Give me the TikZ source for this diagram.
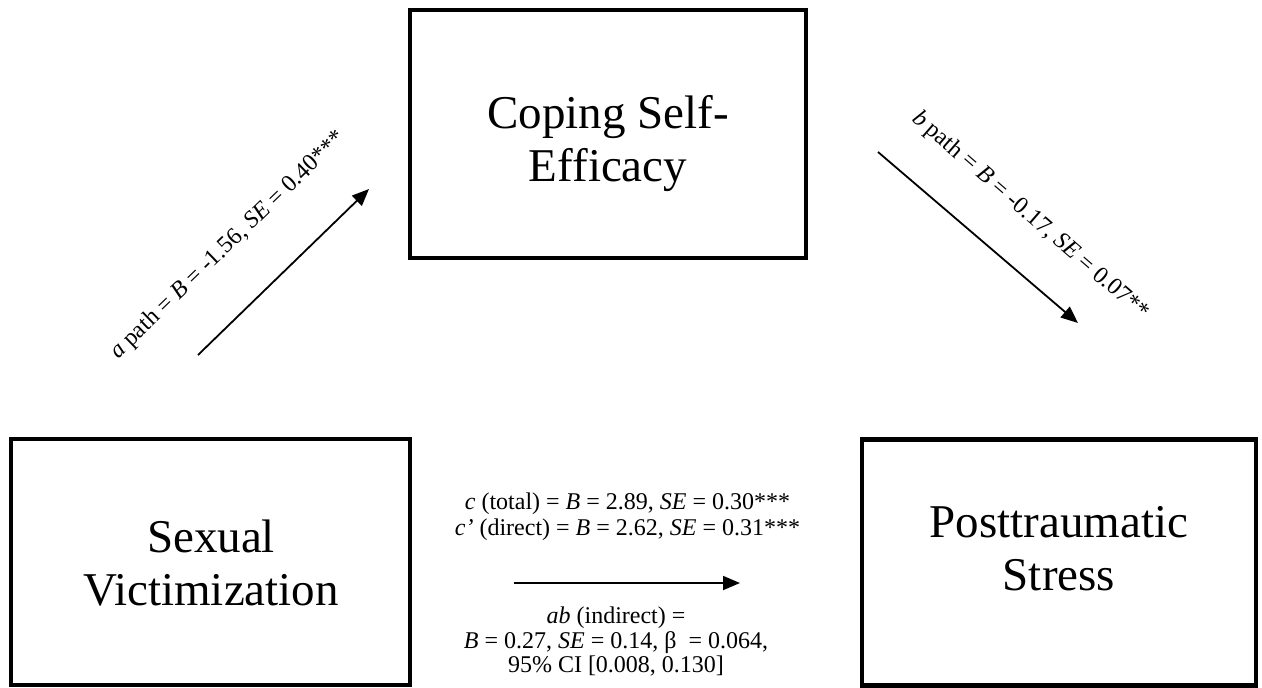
\documentclass[tikz,border=0pt]{standalone}
\usepackage{fontspec}
\setmainfont{Liberation Serif}
\usetikzlibrary{arrows.meta}
\begin{document}
\begin{tikzpicture}[x=1pt,y=-1pt,
  box/.style={draw=black, line width=4.5pt, inner sep=0pt},
  bigtext/.style={align=center, inner sep=0pt, font=\fontsize{47}{53}\selectfont},
  smalltext/.style={align=center, inner sep=0pt, font=\fontsize{24}{#1}\selectfont},
  pathlabel/.style={inner sep=0pt, font=\fontsize{24}{26}\selectfont},
  arr/.style={line width=1.8pt, -{Triangle[length=17pt,width=14pt]}}]
\fill[white] (0,0) rectangle (1262,688);
\useasboundingbox (0,0) rectangle (1262,688);
% boxes
\node[box, minimum width=396pt, minimum height=248pt] (med) at (608,134) {};
\node[box, minimum width=399pt, minimum height=246pt] (iv) at (210.5,562) {};
\node[box, minimum width=394pt, minimum height=246pt] (dv) at (1059,562.5) {};
% box texts
\node[bigtext] (medtxt) at (608,144) {Coping Self-\\Efficacy};
\node[bigtext] (ivtxt) at (211,563) {Sexual\\Victimization};
\node[bigtext] (dvtxt) at (1059,549) {Posttraumatic\\Stress};
% arrows
\coordinate (a1) at (198,355);
\coordinate (a2) at (369,189);
\coordinate (b1) at (878,152);
\coordinate (b2) at (1078,323);
\coordinate (c1) at (514,583);
\coordinate (c2) at (740,583);
\draw[arr] (a1) -- (a2);
\draw[arr] (b1) -- (b2);
\draw[arr] (c1) -- (c2);
% labels
\node[pathlabel, anchor=base west, rotate=44] (alab) at (118,360)
  {\textit{a} path = \textit{B} = -1.56, \textit{SE} = 0.40***};
\node[pathlabel, anchor=base west, rotate=-41] (blab) at (911,120)
  {\textit{b} path = \textit{B} = -0.17, \textit{SE} = 0.07**};
\node[smalltext=26] (ctxt) at (627.5,517)
  {\textit{c} (total) = \textit{B} = 2.89, \textit{SE} = 0.30***\\
   \textit{c’} (direct) = \textit{B} = 2.62, \textit{SE} = 0.31***};
\node[smalltext=24.5] (abtxt) at (616,642)
  {\textit{ab} (indirect) =\\
   \textit{B} = 0.27, \textit{SE} = 0.14, β\ \ = 0.064,\\
   95\% CI [0.008, 0.130]};
\end{tikzpicture}
\end{document}
